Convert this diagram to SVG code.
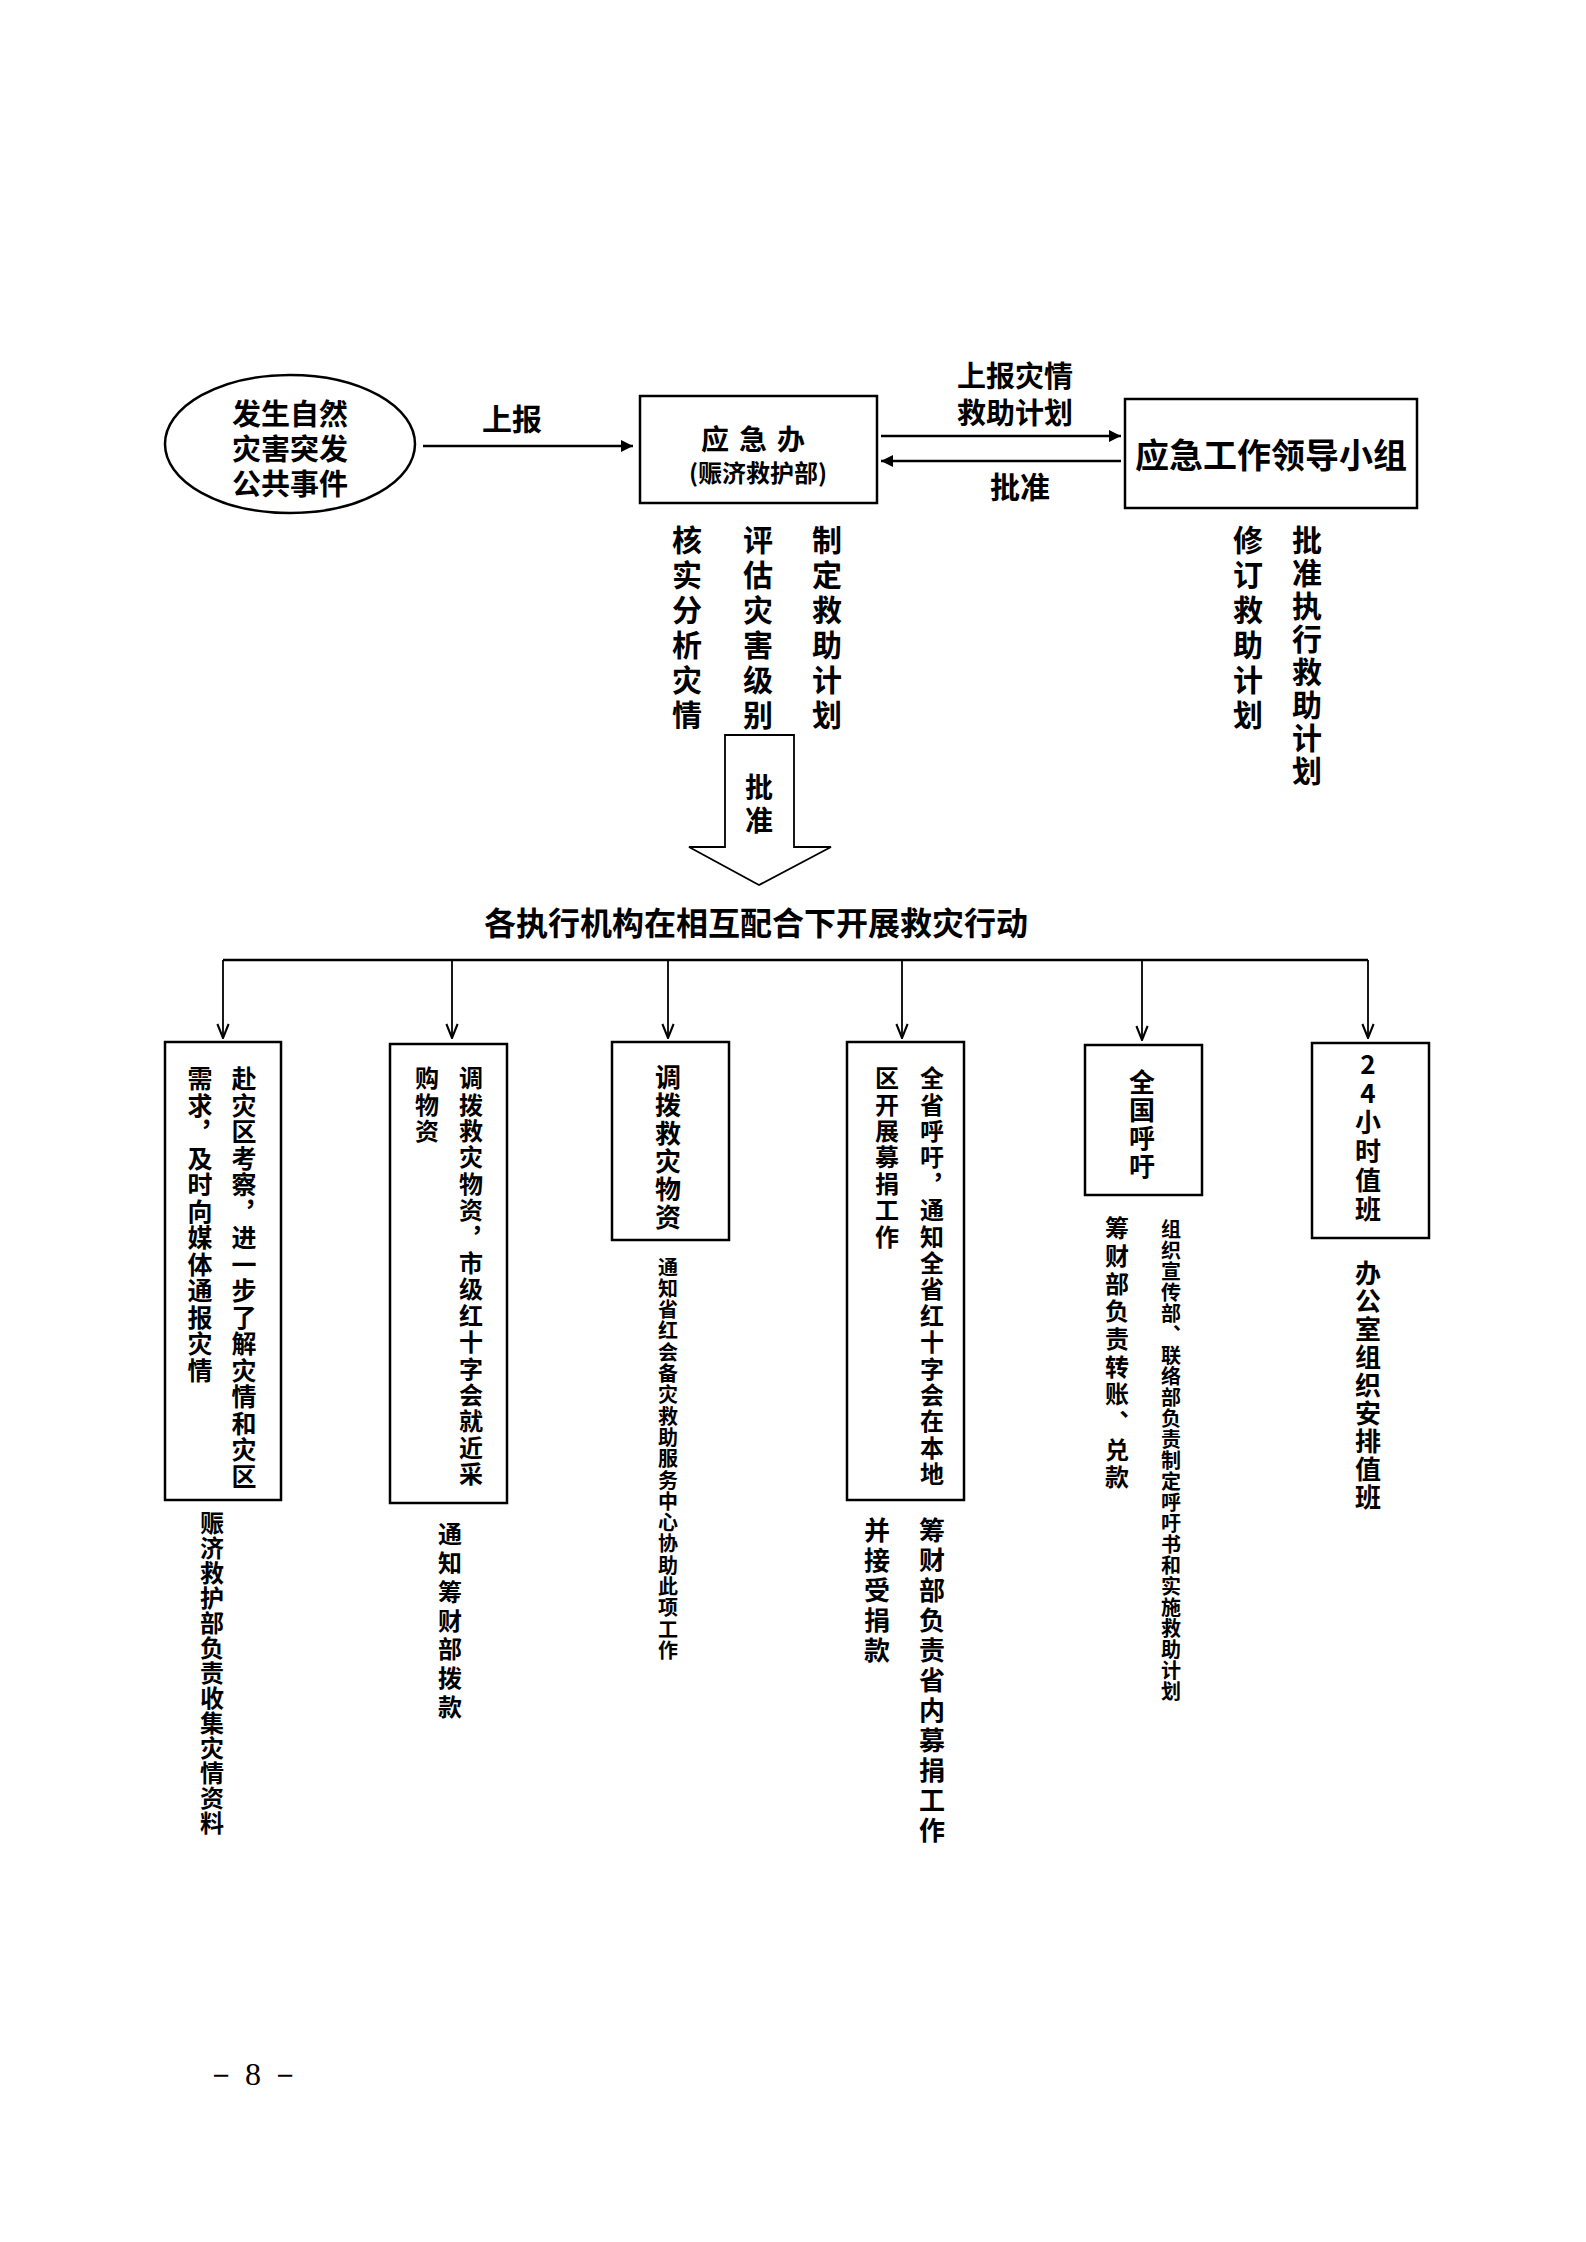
<svg xmlns="http://www.w3.org/2000/svg" width="1586" height="2242" viewBox="0 0 1586 2242">
<style>
text{font-family:"Noto Sans CJK SC","Liberation Sans",sans-serif;font-weight:bold;fill:#000}
.h{text-anchor:middle}
.v{writing-mode:vertical-rl;text-orientation:upright}
.box{fill:#fff;stroke:#000;stroke-width:2.5}
.ln{fill:none;stroke:#000;stroke-width:2.5}
.ln2{fill:none;stroke:#000;stroke-width:1.8}
</style>
<defs>
<marker id="fa" viewBox="0 0 10 10" refX="10" refY="5" markerWidth="12" markerHeight="12" markerUnits="userSpaceOnUse" orient="auto"><path d="M0,0 L10,5 L0,10 Z" fill="#000"/></marker>
<marker id="va" viewBox="0 0 10 10" refX="10" refY="5" markerWidth="16" markerHeight="14" markerUnits="userSpaceOnUse" orient="auto"><path d="M0,1 L10,5 L0,9" fill="none" stroke="#000" stroke-width="1.5"/></marker>
</defs>
<rect width="1586" height="2242" fill="#fff"/>
<g id="connectors">
<line class="ln" x1="423" y1="446" x2="633" y2="446" marker-end="url(#fa)"/>
<line class="ln" x1="881" y1="436" x2="1121" y2="436" marker-end="url(#fa)"/>
<line class="ln" x1="1121" y1="461" x2="881" y2="461" marker-end="url(#fa)"/>
<path class="ln2" d="M725,735 H794 V847 H831 L759,885 L689,847 H725 Z" fill="#fff"/>
<line class="ln" x1="223" y1="960" x2="1368" y2="960"/>
<line class="ln2" x1="223" y1="960" x2="223" y2="1038" marker-end="url(#va)"/>
<line class="ln2" x1="452" y1="960" x2="452" y2="1038" marker-end="url(#va)"/>
<line class="ln2" x1="668" y1="960" x2="668" y2="1038" marker-end="url(#va)"/>
<line class="ln2" x1="902" y1="960" x2="902" y2="1038" marker-end="url(#va)"/>
<line class="ln2" x1="1142" y1="960" x2="1142" y2="1040" marker-end="url(#va)"/>
<line class="ln2" x1="1368" y1="960" x2="1368" y2="1038" marker-end="url(#va)"/>
<text class="h" x="512" y="430" font-size="30">上报</text>
<text class="h" x="1015" y="387" font-size="29">上报灾情</text>
<text class="h" x="1015" y="424" font-size="29">救助计划</text>
<text class="h" x="1020" y="498" font-size="30">批准</text>
<text class="v" x="759" y="773" font-size="28" letter-spacing="5">批准</text>
</g>
<g id="n-event">
<ellipse cx="290" cy="444" rx="125" ry="69" fill="#fff" stroke="#000" stroke-width="2.5"/>
<text class="h" x="290" y="425" font-size="29">发生自然</text>
<text class="h" x="290" y="460" font-size="29">灾害突发</text>
<text class="h" x="290" y="495" font-size="29">公共事件</text>
</g>
<g id="n-office">
<rect class="box" x="640" y="396" width="237" height="107"/>
<text class="h" x="758" y="450" font-size="28" letter-spacing="10">应急办</text>
<text class="h" x="758" y="482" font-size="24">(赈济救护部)</text>
</g>
<g id="n-lead">
<rect class="box" x="1125" y="399" width="292" height="109"/>
<text class="h" x="1271" y="468" font-size="34">应急工作领导小组</text>
</g>
<g id="n-office-tasks">
<text class="v" x="687" y="525" font-size="30" letter-spacing="5">核实分析灾情</text>
<text class="v" x="758" y="525" font-size="30" letter-spacing="5">评估灾害级别</text>
<text class="v" x="827" y="525" font-size="30" letter-spacing="5">制定救助计划</text>
</g>
<g id="n-lead-tasks">
<text class="v" x="1248" y="525" font-size="30" letter-spacing="5">修订救助计划</text>
<text class="v" x="1307" y="525" font-size="30" letter-spacing="3">批准执行救助计划</text>
</g>
<g id="n-title">
<text class="h" x="756" y="935" font-size="32">各执行机构在相互配合下开展救灾行动</text>
</g>
<g id="n-b1">
<rect class="box" x="165" y="1042" width="116" height="458"/>
<text class="v" x="244" y="1066" font-size="25" letter-spacing="1.5">赴灾区考察，进一步了解灾情和灾区</text>
<text class="v" x="200" y="1066" font-size="25" letter-spacing="1.5">需求，及时向媒体通报灾情</text>
<text class="v" x="212" y="1511" font-size="24" letter-spacing="1">赈济救护部负责收集灾情资料</text>
</g>
<g id="n-b2">
<rect class="box" x="390" y="1044" width="117" height="459"/>
<text class="v" x="471" y="1066" font-size="24" letter-spacing="2.4">调拨救灾物资，市级红十字会就近采</text>
<text class="v" x="427" y="1066" font-size="24" letter-spacing="2.4">购物资</text>
<text class="v" x="450" y="1522" font-size="24" letter-spacing="4.8">通知筹财部拨款</text>
</g>
<g id="n-b3">
<rect class="box" x="612" y="1042" width="117" height="198"/>
<text class="v" x="668" y="1064" font-size="26" letter-spacing="2">调拨救灾物资</text>
<text class="v" x="668" y="1257" font-size="20" letter-spacing="1.3">通知省红会备灾救助服务中心协助此项工作</text>
</g>
<g id="n-b4">
<rect class="box" x="847" y="1042" width="117" height="458"/>
<text class="v" x="932" y="1066" font-size="24" letter-spacing="2.4">全省呼吁，通知全省红十字会在本地</text>
<text class="v" x="887" y="1066" font-size="24" letter-spacing="2.4">区开展募捐工作</text>
<text class="v" x="932" y="1517" font-size="26" letter-spacing="4">筹财部负责省内募捐工作</text>
<text class="v" x="877" y="1517" font-size="26" letter-spacing="4">并接受捐款</text>
</g>
<g id="n-b5">
<rect class="box" x="1085" y="1045" width="117" height="150"/>
<text class="v" x="1142" y="1069" font-size="26" letter-spacing="2">全国呼吁</text>
<text class="v" x="1117" y="1216" font-size="24" letter-spacing="3.7">筹财部负责转账、兑款</text>
<text class="v" x="1171" y="1219" font-size="20" letter-spacing="1">组织宣传部、联络部负责制定呼吁书和实施救助计划</text>
</g>
<g id="n-b6">
<rect class="box" x="1312" y="1043" width="117" height="195"/>
<text class="v" x="1368" y="1051" font-size="26" letter-spacing="3">24小时值班</text>
<text class="v" x="1368" y="1260" font-size="26" letter-spacing="2">办公室组织安排值班</text>
</g>
<text x="205" y="2085" font-size="32" style="font-family:'Liberation Serif',serif;font-weight:normal">－ 8 －</text>
</svg>
